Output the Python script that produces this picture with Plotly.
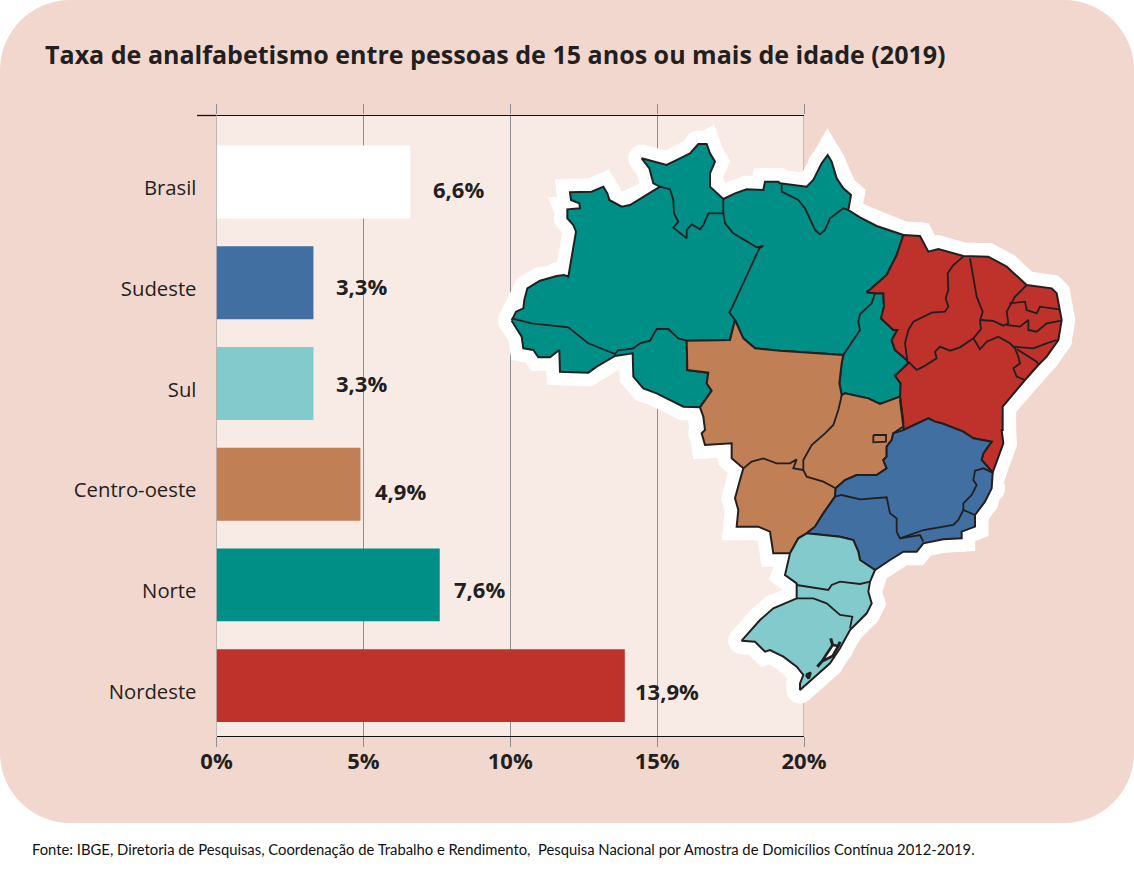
import plotly.graph_objects as go

# ---- chart data -------------------------------------------------------
categories = ["Brasil", "Sudeste", "Sul", "Centro-oeste", "Norte", "Nordeste"]
values = [6.6, 3.3, 3.3, 4.9, 7.6, 13.9]
value_labels = ["6,6%", "3,3%", "3,3%", "4,9%", "7,6%", "13,9%"]
bar_colors = ["#FFFFFF", "#426FA2", "#82CACC", "#C17F55", "#008F87", "#BE322B"]
x_ticks = [0, 5, 10, 15, 20]
title_text = "Taxa de analfabetismo entre pessoas de 15 anos ou mais de idade (2019)"
source_text = ("Fonte: IBGE, Diretoria de Pesquisas, Coordenação de Trabalho e Rendimento,  "
               "Pesquisa Nacional por Amostra de Domicílios Contínua 2012-2019.")

# label nudges (pixels) relative to the end of each bar
label_dx = [21, 21, 21, 13, 12, 8]
label_dy = [7.5, 3.5, 0, 6.5, 4.5, 5.5]

INK = "#231F20"
GRID = "#8E8E8E"
WIDTH, HEIGHT = 1134, 883


# ---- map outlines -----------------------------------------------------
def z1(p): return [(490 + x / 3, 130 + y / 3) for x, y in p]
def z2(p): return [(780 + x / 3, 130 + y / 3) for x, y in p]
def z3(p): return [(690 + x / 3, 400 + y / 3) for x, y in p]


north = z1([(65,572),(78,545),(100,535),(103,510),(112,475),(150,452),(200,438),(222,435),(235,440),
            (258,305),(250,285),(232,265),(232,238),(270,235),(268,220),(243,210),(240,187),(305,185),
            (340,170),(352,190),(358,210),(395,230),(420,225),(470,195),(510,170),(490,160),(478,115),
            (455,85),(495,95),(530,105),(570,85),(600,70),(625,42),(650,42),(660,70),(675,95),(660,130),
            (660,170),(700,207),(735,190),(770,178),(820,180),(825,155),(865,155)]) + \
    z2([(0,160),(40,165),(80,170),(100,150),(125,100),(143,75),(155,95),(170,145),(190,175),(213,195),
        (205,240),(240,262),(290,288),(370,315),(350,375),(320,435),(275,475),(260,487),(285,490),
        (310,490),(312,530),(303,565),(340,600),(352,600),(335,630),(345,660),(380,690),(385,700),
        (345,737),(362,760),(360,800),(300,822),(265,805),(240,800),(195,790),(185,795),(178,760),
        (185,700),(190,675),(0,662)]) + \
    z1([(795,655),(760,625),(735,570),(720,630),(590,632),(592,720),(655,728),(650,760),(665,782),
        (630,832),(580,830),(500,790),(460,775),(430,740),(428,670),(375,678),(320,710),(295,728),
        (210,725),(208,660),(180,682),(145,682),(130,660),(100,655),(95,620),(65,572)])

northeast = z2([(370,315),(420,318),(445,365),(475,357),(550,378),(625,380),(680,410),(740,465),(815,475),
                (830,490),(845,570),(835,630),(800,680),(775,705),(735,750),(680,815),(668,830),(668,900)]) + \
    z3([(935,90),(940,130),(908,218),(875,180),(880,160),(905,125),(850,115),(820,95),(755,70),(735,65),
        (715,55),(640,90),(640,80),(635,40),(630,0)]) + \
    z2([(370,880),(360,800),(362,760),(345,737),(385,700),(380,690),(345,660),(335,630),(352,600),(340,600),
        (303,565),(312,530),(310,490),(285,490),(260,487),(275,475),(320,435),(350,375),(370,315)])

centre_west = z1([(590,632),(720,630),(735,570),(760,625),(795,655)]) + \
    z2([(0,662),(190,675),(185,700),(178,760),(185,795),(195,790),(240,800),(265,805),(300,822),(360,800),(370,880)]) + \
    z3([(630,0),(635,40),(640,80),(610,100),(605,120),(590,140),(590,170),(580,180),(590,205),(560,225),(500,225),
        (465,240),(437,265),(435,290),(400,340),(375,380),(350,400),(325,415),(300,460),(250,460),(240,395),(205,380),
        (140,380),(145,330),(135,295),(150,240),(160,205),(125,175),(125,130),(45,135),(35,100),(45,90)]) + \
    z1([(640,860),(630,832),(665,782),(650,760),(655,728),(592,720),(590,632)])

southeast = z3([(640,90),(715,55),(735,65),(755,70),(820,95),(850,115),(905,125),(880,160),(875,180),(908,218),
                (905,265),(885,305),(855,345),(855,380),(815,395),(815,415),(760,418),(700,430),(680,455),(640,455),
                (600,480),(555,510),(510,480),(505,455),(490,420),(450,410),(400,405),(350,400),(375,380),(400,340),
                (435,290),(437,265),(465,240),(500,225),(560,225),(590,205),(580,180),(590,170),(590,140),(605,120),
                (610,100),(640,90)])

south = z3([(350,400),(400,405),(450,410),(490,420),(505,455),(510,480),(555,510),(540,545),(535,575),(545,610),
            (530,640),(480,690),(450,745),(420,790),(375,830),(330,870),(330,850),(340,825),(320,800),(280,770),
            (240,750),(225,755),(195,725),(155,722),(210,660),(250,625),(320,595),(320,550),(285,525),(300,460),
            (325,415),(350,400)])

regions = [(north, "#008F87"), (northeast, "#BE322B"), (centre_west, "#C17F55"),
           (southeast, "#426FA2"), (south, "#82CACC")]

state_borders = [
    z1([(65,565),(125,580),(235,592),(295,640),(375,672),(385,660),(410,658),(430,655),(450,640),(480,632),
        (500,597),(535,597),(565,625),(590,632)]),
    z1([(510,170),(540,178),(550,210),(552,250),(565,275),(550,293),(590,325),(590,300),(605,283),(630,298),
        (640,285),(655,250),(700,250),(700,207)]),
    z1([(700,250),(705,280),(730,310),(800,352),(820,348),(808,355),(725,535),(718,547),(735,570)]),
    z2([(5,165),(5,185),(55,210),(75,235),(105,300),(120,313),(135,300),(150,265),(190,235),(205,240)]),
    z2([(285,490),(275,520),(240,553),(235,575),(240,600),(205,650),(190,675)]),
    z2([(550,380),(520,405),(503,430),(505,480),(497,505),(505,530),(495,545),(455,548),(400,575),(385,600),
        (375,640),(382,690)]),
    z2([(570,385),(580,440),(590,500),(608,545),(600,572),(603,597),(580,625)]),
    z2([(385,695),(410,720),(430,710),(470,685),(465,665),(480,650),(510,662),(540,652),(580,625),(600,658),
        (620,635),(655,620),(690,640),(705,655),(715,680),(720,700),(700,715),(710,740),(735,750)]),
    z2([(603,570),(640,573),(670,587),(685,580),(680,545),(705,500),(740,465)]),
    z2([(710,657),(770,695),(775,705)]),
    z2([(700,650),(760,655),(800,640),(830,630)]),
    z2([(680,585),(720,590),(745,570),(745,600),(770,605),(800,580),(845,572)]),
    z2([(688,520),(735,515),(740,540),(770,550),(780,530),(838,538)]),
    z3([(160,205),(185,185),(220,175),(260,190),(300,190),(320,178),(310,205),(340,210)]),
    z3([(340,210),(340,180),(365,135),(405,100),(430,75),(445,30),(452,0)]) + z2([(185,795)]),
    z3([(340,210),(350,230),(400,245),(437,265)]),
    z3([(550,105),(588,105),(588,125),(550,127),(550,105)]),
    z3([(435,290),(455,285),(510,298),(590,292),(600,340),(620,355),(620,395),(630,415),(700,390),(790,375),
        (805,360),(820,330),(855,345)]),
    z3([(820,330),(820,310),(845,285),(860,255),(850,240),(855,212),(880,205),(908,218)]),
    z3([(630,415),(690,405),(700,425)]),
    z3([(320,555),(415,570),(425,555),(450,545),(510,552),(540,545)]),
    z3([(320,595),(370,595),(410,610),(450,645),(487,650),(480,685)]),
]

lagoons = [
    z3([(428,735),(445,738),(428,768),(395,785),(408,765),(428,735)]),
    z3([(348,825),(362,818),(356,835),(348,825)]),
]
lagoon_shore = [
    z3([(422,715),(428,735)]),
    z3([(450,725),(445,738)]),
    z3([(395,785),(382,800)]),
]

# ---- figure ------------------------------------------------------------
fig = go.Figure()

fig.add_trace(go.Bar(
    x=values, y=categories, orientation="h", width=0.724,
    marker=dict(color=bar_colors, line=dict(width=0)),
    xaxis="x", yaxis="y", showlegend=False, hoverinfo="x+y",
))


def poly(points, **kw):
    fig.add_trace(go.Scatter(
        x=[p[0] for p in points], y=[p[1] for p in points], xaxis="x2", yaxis="y2",
        showlegend=False, hoverinfo="skip", **kw))


for pts, _ in regions:                      # white halo round the map
    poly(pts, mode="lines+markers", line=dict(color="#FFFFFF", width=27),
         marker=dict(color="#FFFFFF", size=27), fill="toself", fillcolor="#FFFFFF")
for pts, color in regions:
    poly(pts, mode="lines", line=dict(color=INK, width=2), fill="toself", fillcolor=color)
for pts in state_borders:
    poly(pts, mode="lines", line=dict(color=INK, width=1.8))
for pts in lagoons:
    poly(pts, mode="lines", line=dict(color=INK, width=2.6), fill="toself", fillcolor="#FFFFFF")
for pts in lagoon_shore:
    poly(pts, mode="lines", line=dict(color=INK, width=3))

R = 70
bg_path = (f"M {R/WIDTH} 1 L {1-R/WIDTH} 1 "
           f"C {1-0.45*R/WIDTH} 1 1 {1-0.45*R/HEIGHT} 1 {1-R/HEIGHT} "
           f"L 1 {1-(823-R)/HEIGHT} "
           f"C 1 {1-(823-0.45*R)/HEIGHT} {1-0.45*R/WIDTH} {1-823/HEIGHT} {1-R/WIDTH} {1-823/HEIGHT} "
           f"L {R/WIDTH} {1-823/HEIGHT} "
           f"C {0.45*R/WIDTH} {1-823/HEIGHT} 0 {1-(823-0.45*R)/HEIGHT} 0 {1-(823-R)/HEIGHT} "
           f"L 0 {1-R/HEIGHT} C 0 {1-0.45*R/HEIGHT} {0.45*R/WIDTH} 1 {R/WIDTH} 1 Z")

fig.update_layout(
    width=WIDTH, height=HEIGHT, margin=dict(l=0, r=0, t=0, b=0, pad=0, autoexpand=False), autosize=False,
    paper_bgcolor="#FFFFFF", plot_bgcolor="rgba(0,0,0,0)",
    font=dict(family="Open Sans", color=INK),
    title=dict(text=title_text, x=45 / WIDTH, xanchor="left", y=1 - 55 / HEIGHT, yanchor="middle",
               font=dict(family="Open Sans", size=25.05, weight=700, color=INK)),
    xaxis=dict(domain=[216.5 / WIDTH, 804 / WIDTH], range=[0, 20], anchor="y",
               tickvals=x_ticks, ticktext=[f"{t}%" for t in x_ticks],
               showgrid=True, gridcolor=GRID, gridwidth=1,
               zeroline=False, showline=True, linecolor="#111111", linewidth=1.3, mirror="ticks",
               ticks="outside", ticklen=10, tickcolor=GRID, tickwidth=1, ticklabelstandoff=-5,
               tickfont=dict(family="Open Sans", size=22, weight=700, color=INK)),
    yaxis=dict(domain=[1 - 736 / HEIGHT, 1 - 115.5 / HEIGHT], range=[5.5, -0.66], anchor="x",
               type="category", categoryorder="array", categoryarray=categories,
               showgrid=False, zeroline=False, showline=False, ticks="",
               ticklabelstandoff=19, ticklabelshift=-6,
               tickfont=dict(family="Open Sans", size=20.3, color=INK)),
    xaxis2=dict(domain=[0, 1], range=[0, WIDTH], anchor="y2", visible=False, fixedrange=True),
    yaxis2=dict(domain=[0, 1], range=[HEIGHT, 0], anchor="x2", visible=False, fixedrange=True),
    shapes=[
        dict(type="path", path=bg_path, xref="paper", yref="paper",
             fillcolor="#F2D7CE", line=dict(width=0), layer="below"),
        dict(type="rect", xref="paper", yref="paper", x0=216.5 / WIDTH, x1=804 / WIDTH,
             y0=1 - 736 / HEIGHT, y1=1 - 115.5 / HEIGHT, fillcolor="#F8EBE6", line=dict(width=0), layer="below"),
        dict(type="line", xref="paper", yref="paper", x0=197 / WIDTH, x1=216.5 / WIDTH,
             y0=1 - 115.5 / HEIGHT, y1=1 - 115.5 / HEIGHT, line=dict(color="#111111", width=1.3), layer="below"),
        # plotly drops the grid lines that fall on the plot edges, so restore the two end ones
        dict(type="line", xref="x", yref="y domain", x0=x_ticks[0], x1=x_ticks[0], y0=0, y1=1,
             line=dict(color=GRID, width=1), layer="above"),
        dict(type="line", xref="x", yref="y domain", x0=x_ticks[-1], x1=x_ticks[-1], y0=0, y1=1,
             line=dict(color=GRID, width=1), layer="below"),
    ],
    annotations=[
        dict(x=v, y=c, xref="x", yref="y", text=t, showarrow=False, xanchor="left", yanchor="middle",
             xshift=dx, yshift=-dy, font=dict(family="Open Sans", size=22, weight=700, color=INK))
        for v, c, t, dx, dy in zip(values, categories, value_labels, label_dx, label_dy)
    ] + [
        dict(x=30 / WIDTH, y=1 - 849 / HEIGHT, xref="paper", yref="paper", text=source_text, showarrow=False,
             xanchor="left", yanchor="middle", font=dict(family="Lato", size=14.8, color="#111111")),
    ],
)

fig.write_html("out.html", post_script="document.body.style.margin='0';",
               config={"displayModeBar": False})
